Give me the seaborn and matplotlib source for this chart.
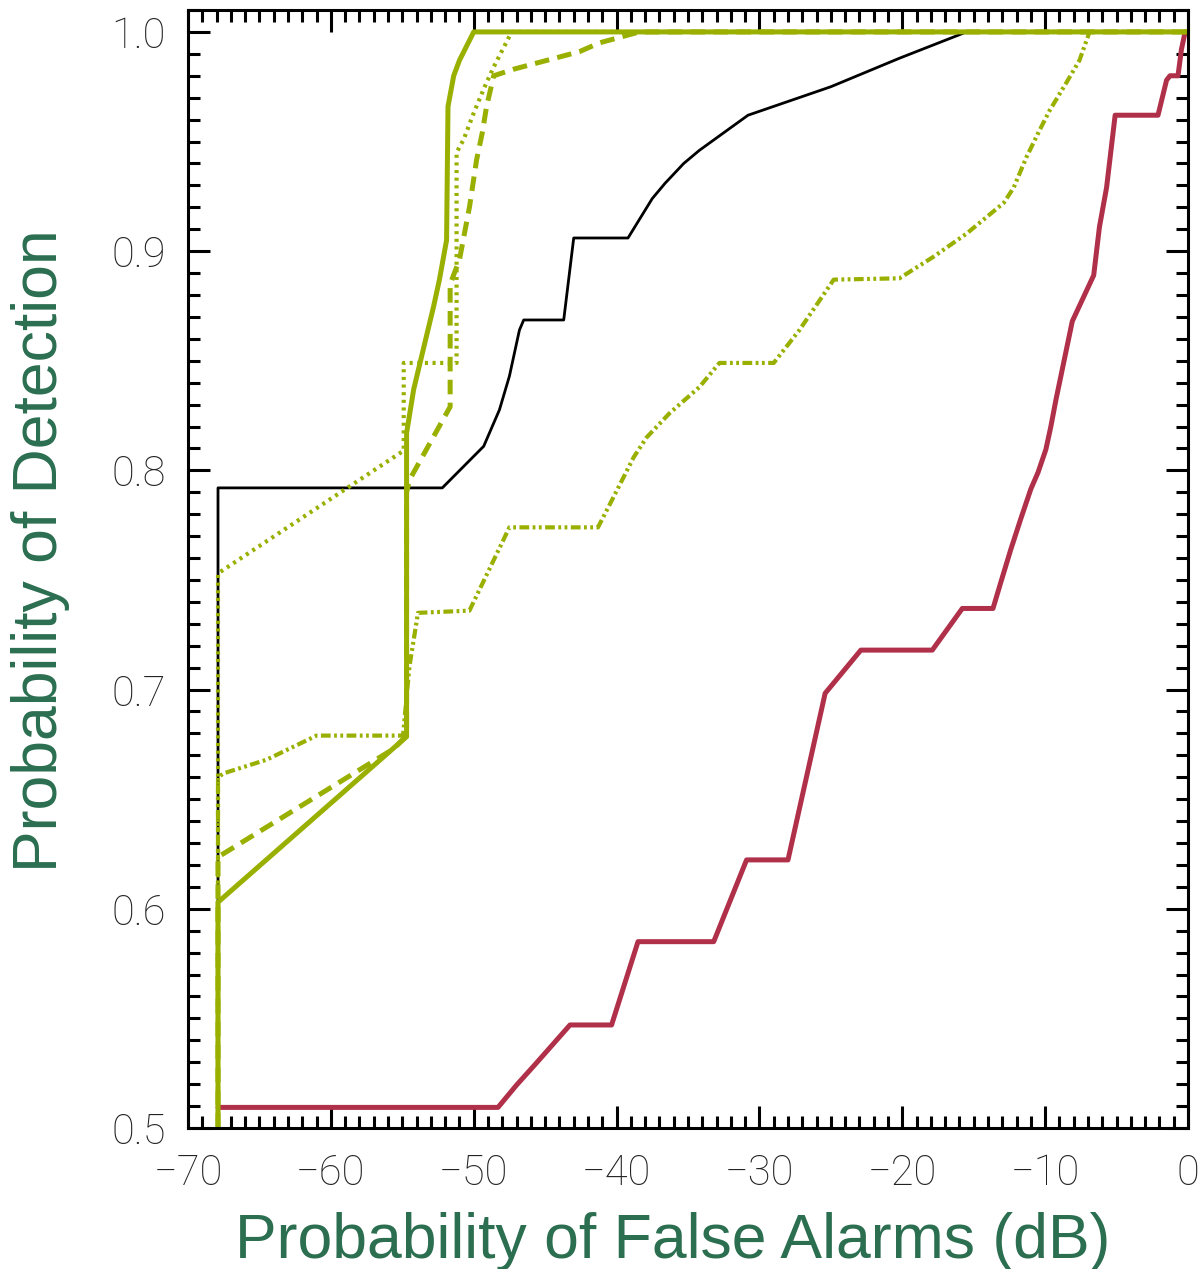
import matplotlib
matplotlib.use("Agg")
import matplotlib.pyplot as plt
import seaborn as sns
from matplotlib.ticker import MultipleLocator

# ROC curves
black_x = [-67.9, -67.9, -52.2, -50.75, -49.3, -48.2, -47.5, -46.8, -46.5, -43.7, -43.0, -39.2,
           -37.5, -36.6, -35.3, -34.2, -30.8, -25.0, -20.2, -15.5, 0.0]
black_y = [0.5, 0.792, 0.792, 0.8015, 0.811, 0.8276, 0.843, 0.864, 0.8686, 0.8686, 0.906, 0.906,
           0.924, 0.931, 0.940, 0.946, 0.962, 0.975, 0.988, 1.0, 1.0]

red_x = [-67.9, -48.3, -47.0, -45.7, -43.26, -40.35, -38.5, -33.2, -30.9, -28.0, -25.4, -22.9,
         -17.9, -15.8, -13.65, -13.1, -12.4, -11.7, -11.0, -10.5, -9.95, -9.6, -9.25, -8.1,
         -6.6, -6.2, -5.7, -5.1, -2.1, -1.5, -1.26, -0.7, -0.46, -0.2]
red_y = [0.5094, 0.5094, 0.5196, 0.529, 0.547, 0.547, 0.585, 0.585, 0.6223, 0.6223, 0.6983, 0.718,
         0.718, 0.737, 0.737, 0.749, 0.764, 0.778, 0.7915, 0.799, 0.8095, 0.820, 0.832, 0.868,
         0.889, 0.911, 0.929, 0.962, 0.962, 0.978, 0.980, 0.980, 0.992, 1.0]

dashdot_x = [-67.9, -67.9, -67.5, -64.5, -61.0, -54.95, -54.5, -53.9, -50.3, -47.5, -41.3, -40.2,
             -38.8, -37.9, -36.3, -34.2, -32.8, -29.0, -27.2, -24.8, -20.2, -17.8, -15.5, -12.9,
             -12.2, -11.3, -10.4, -9.7, -8.5, -7.6, -7.0, -6.9, 0.0]
dashdot_y = [0.5, 0.66, 0.6618, 0.668, 0.679, 0.679, 0.7105, 0.735, 0.736, 0.774, 0.774, 0.788,
             0.806, 0.815, 0.826, 0.838, 0.849, 0.849, 0.864, 0.887, 0.8876, 0.8975, 0.908, 0.922,
             0.929, 0.943, 0.955, 0.964, 0.977, 0.987, 0.998, 1.0, 1.0]

dotted_x = [-67.9, -67.9, -54.9, -54.9, -51.2, -51.2, -50.7, -50.0, -49.3, -48.6, -47.5, -47.35, 0.0]
dotted_y = [0.5, 0.753, 0.809, 0.849, 0.849, 0.945, 0.951, 0.963, 0.974, 0.984, 0.998, 1.0, 1.0]

dashed_x = [-67.9, -67.9, -55.6, -54.7, -54.7, -54.5, -51.65, -51.65, -51.0, -50.3, -49.8, -49.4,
            -49.1, -48.6, -47.2, -44.9, -42.6, -41.2, -38.4, 0.0]
dashed_y = [0.5, 0.6236, 0.673, 0.679, 0.79, 0.7956, 0.829, 0.885, 0.896, 0.920, 0.9416, 0.954,
            0.966, 0.980, 0.983, 0.987, 0.991, 0.995, 1.0, 1.0]

solid_x = [-67.9, -67.9, -54.7, -54.7, -54.7, -54.2, -53.5, -52.8, -52.4, -51.9, -51.8, -51.4,
           -51.0, -50.0, 0.0]
solid_y = [0.5, 0.603, 0.6785, 0.79, 0.817, 0.837, 0.856, 0.875, 0.887, 0.905, 0.966, 0.980,
           0.987, 1.0, 1.0]

x_ticks = [-70, -60, -50, -40, -30, -20, -10, 0]
y_ticks = [0.5, 0.6, 0.7, 0.8, 0.9, 1.0]

GREEN = "#99b000"
RED = "#b0304a"
LABEL = "#2b6e50"

sns.set_style("ticks")
plt.rcParams["lines.scale_dashes"] = False

fig = plt.figure(figsize=(11.99, 12.69), dpi=100)
ax = fig.add_axes([188 / 1199, 1 - 1128 / 1269, 1000 / 1199, 1118 / 1269])

def draw(x, y, **kw):
    sns.lineplot(x=x, y=y, sort=False, estimator=None, ax=ax, **kw)

draw(black_x, black_y, color="black", linewidth=2.0)
draw(red_x, red_y, color=RED, linewidth=3.6)
draw(dashdot_x, dashdot_y, color=GREEN, linewidth=3.0, linestyle=(0, (7, 2.5, 2, 2.5, 2, 2.5)))
draw(dotted_x, dotted_y, color=GREEN, linewidth=3.0, linestyle=(0, (2.2, 3.3)))
draw(dashed_x, dashed_y, color=GREEN, linewidth=3.6, linestyle=(0, (10.5, 6)))
draw(solid_x, solid_y, color=GREEN, linewidth=3.6)

ax.set_xlim(-70, 0)
ax.set_ylim(0.5, 1.01)
ax.set_xticks(x_ticks)
ax.set_yticks(y_ticks)
ax.set_yticklabels([f"{v:.1f}" for v in y_ticks])
ax.xaxis.set_minor_locator(MultipleLocator(1))
ax.yaxis.set_minor_locator(MultipleLocator(0.01))

for s in ax.spines.values():
    s.set_linewidth(2.2)
    s.set_color("black")
ax.tick_params(which="both", direction="in", top=True, right=True, width=2.2, color="black")
ax.tick_params(which="major", length=16)
ax.tick_params(which="minor", length=8.5)
ax.tick_params(axis="x", which="major", pad=18)
ax.tick_params(axis="y", which="major", pad=16)
for lab in ax.get_xticklabels() + ax.get_yticklabels():
    lab.set_fontfamily(["Roboto", "DejaVu Sans"])
    lab.set_fontweight("light")
    lab.set_fontsize(30)
    lab.set_color("#222222")

ax.set_xlabel("Probability of False Alarms (dB)", fontsize=45, color=LABEL,
              fontfamily=["Liberation Sans", "DejaVu Sans"])
ax.set_ylabel("Probability of Detection", fontsize=45, color=LABEL,
              fontfamily=["Liberation Sans", "DejaVu Sans"])
ax.xaxis.label.set_va("baseline")
ax.yaxis.label.set_va("baseline")
ax.xaxis.set_label_coords(0.485, -(1258 - 1128) / 1118)
ax.yaxis.set_label_coords((57 - 188) / 1000, 0.516)

fig.savefig("out.png", dpi=100, facecolor="white")
